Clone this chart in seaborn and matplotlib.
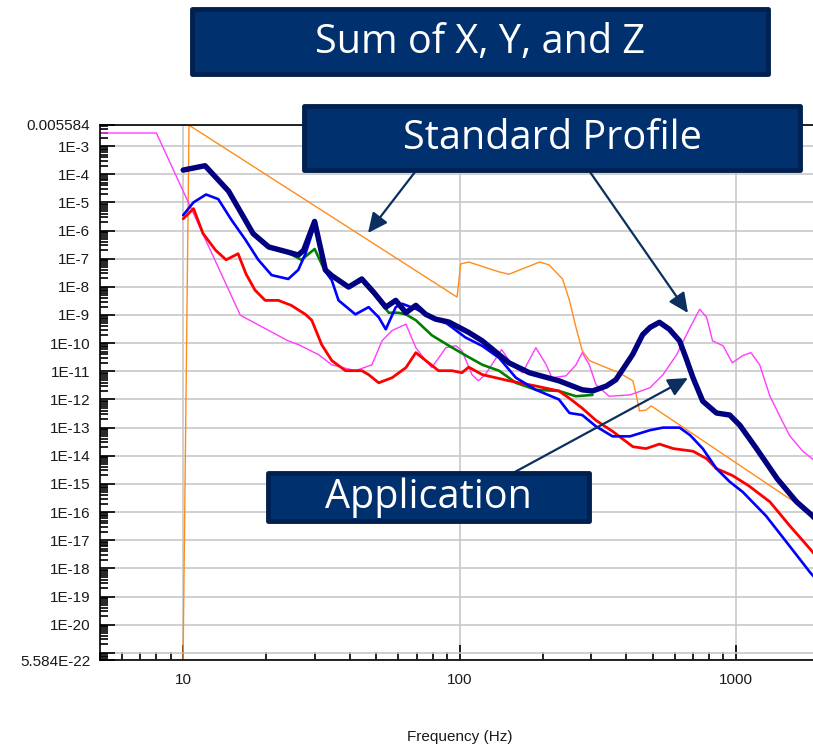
import numpy as np
import pandas as pd
import matplotlib
matplotlib.use('Agg')
import matplotlib.pyplot as plt
from matplotlib.patches import Rectangle, FancyArrowPatch
from matplotlib.ticker import NullFormatter, FixedLocator
import seaborn as sns

# ---- data (frequency in Hz, response values) ----
sum_freq = [10, 12, 14.6, 17.9, 20.4, 24, 26.1, 27.3, 29.9, 32.7, 34.5, 39.7, 44.3, 49, 54.1,
            58.8, 64, 69.5, 75.5, 82, 91.6, 108, 121, 151, 179, 229, 278, 303, 340, 368, 423,
            460, 489, 529, 575, 626, 660, 700, 759, 851, 950, 1035, 1188, 1414, 1660, 1893, 2000]
sum_val = [1.4e-4, 2.0e-4, 2.5e-5, 7.8e-7, 2.6e-7, 1.7e-7, 1.35e-7, 2.0e-7, 2.1e-6, 4.0e-8,
           2.5e-8, 9.8e-9, 1.9e-8, 6.3e-9, 1.9e-9, 3.3e-9, 1.2e-9, 2.2e-9, 1.05e-9, 7.1e-10,
           5.6e-10, 2.4e-10, 1.2e-10, 2.0e-11, 8.9e-12, 4.6e-12, 2.2e-12, 2.0e-12, 3.0e-12,
           5.0e-12, 3.9e-11, 2.0e-10, 3.6e-10, 5.5e-10, 3.1e-10, 1.2e-10, 3.0e-11, 5.9e-12,
           8.7e-13, 3.3e-13, 2.8e-13, 1.2e-13, 1.8e-14, 1.5e-15, 2.3e-16, 7.4e-17, 4.0e-17]

green_freq = [10, 12, 14.6, 17.9, 20.4, 24, 26.8, 29.9, 32.7, 35, 39.7, 44.3, 49, 55.5, 60, 64,
              69.5, 79.4, 91.6, 105.6, 121, 139, 160, 189, 229, 264, 303]
green_val = [1.3e-4, 1.9e-4, 2.3e-5, 7.0e-7, 2.4e-7, 1.6e-7, 9.1e-8, 2.2e-7, 3.4e-8, 2.2e-8,
             9.5e-9, 1.6e-8, 5.5e-9, 1.2e-9, 1.2e-9, 1.05e-9, 6.5e-10, 1.9e-10, 8.1e-11,
             3.6e-11, 1.7e-11, 1.05e-11, 3.9e-12, 2.2e-12, 2.0e-12, 1.3e-12, 1.45e-12]

blue_freq = [10, 10.9, 12.1, 13.4, 14.9, 16.8, 18.7, 20.9, 24, 26.1, 27.7, 29.9, 32.7, 34.5,
             36.5, 42, 46.9, 51, 54.1, 58.8, 62, 70, 80, 90, 105, 121, 139, 160, 189, 229, 250,
             278, 312, 358, 414, 489, 545, 626, 683, 759, 851, 950, 1059, 1285, 1527, 1857, 2000]
blue_val = [3.5e-6, 1.0e-5, 1.9e-5, 1.3e-5, 2.5e-6, 4.7e-7, 9.1e-8, 2.6e-8, 1.9e-8, 4.0e-8,
            1.5e-7, 1.5e-6, 3.5e-8, 1.7e-8, 3.3e-9, 1.05e-9, 1.9e-9, 8.3e-10, 3.1e-10, 1.9e-9,
            2.5e-9, 1.6e-9, 7.9e-10, 5.0e-10, 1.6e-10, 7.9e-11, 3.0e-11, 5.9e-12, 2.2e-12,
            1.0e-12, 3.3e-13, 2.8e-13, 1.1e-13, 4.9e-14, 4.9e-14, 8.1e-14, 1.0e-13, 1.0e-13,
            5.4e-14, 1.8e-14, 3.5e-15, 1.2e-15, 5.2e-16, 7.4e-17, 8.5e-18, 7.2e-19, 3.2e-19]

red_freq = [10, 10.9, 11.8, 13.1, 14.3, 15.8, 16.9, 18.2, 19.8, 22.1, 24.6, 27.7, 29.2, 31.7,
            34.5, 38.7, 44.3, 46.9, 51, 57, 64, 69.5, 75.5, 84, 94, 102, 108, 121, 151, 189,
            229, 250, 278, 312, 358, 424, 473, 529, 594, 700, 784, 851, 971, 1112, 1329, 1570,
            1857, 2000]
red_val = [2.6e-6, 6.0e-6, 7.8e-7, 2.0e-7, 9.1e-8, 1.5e-7, 2.8e-8, 7.6e-9, 3.3e-9, 3.3e-9,
           2.2e-9, 1.05e-9, 6.5e-10, 8.9e-11, 2.4e-11, 1.05e-11, 1.05e-11, 7.6e-12, 3.9e-12,
           5.9e-12, 1.35e-11, 4.6e-11, 2.4e-11, 1.05e-11, 1.05e-11, 8.9e-12, 1.4e-11, 7.6e-12,
           4.6e-12, 3.0e-12, 2.0e-12, 1.1e-12, 4.9e-13, 1.8e-13, 7.4e-14, 2.1e-14, 1.8e-14,
           2.6e-14, 1.8e-14, 1.45e-14, 7.9e-15, 3.5e-15, 2.0e-15, 8.7e-16, 2.3e-16, 3.2e-17,
           4.9e-18, 2.0e-18]

mag_freq = [5, 8.0, 16.1, 24, 26.1, 30.9, 34.5, 42, 48.2, 52.4, 57, 64, 69.5, 75.5, 79.4, 89.3,
            97, 102, 111, 117, 124, 142, 155, 169, 189, 206, 216, 243, 264, 278, 295, 312, 348,
            414, 489, 545, 611, 683, 740, 784, 824, 899, 971, 1059, 1134, 1220, 1329, 1477,
            1570, 1747, 2000]
mag_val = [2.9e-3, 2.9e-3, 9.8e-10, 1.2e-10, 8.9e-11, 3.9e-11, 1.7e-11, 1.05e-11, 1.7e-11,
           1.2e-10, 2.8e-10, 4.7e-10, 6.9e-11, 2.4e-11, 1.35e-11, 6.9e-11, 8.1e-11, 5.4e-11,
           7.6e-12, 4.6e-12, 7.6e-12, 5.9e-11, 1.7e-11, 8.9e-12, 6.9e-11, 1.7e-11, 5.9e-12,
           6.9e-12, 1.7e-11, 4.6e-11, 1.7e-11, 3.3e-12, 1.3e-12, 1.45e-12, 2.6e-12, 7.6e-12,
           3.9e-11, 3.6e-10, 1.6e-9, 8.3e-10, 1.2e-10, 8.1e-11, 2.0e-11, 3.6e-11, 4.6e-11,
           1.7e-11, 1.3e-12, 1.6e-13, 5.0e-14, 1.45e-14, 5.0e-15]

std_freq = [9.98, 10.5, 98, 101, 108, 139, 151, 195, 211, 236, 250, 264, 278, 295, 340, 378,
            424, 436, 448, 473, 494, 2000]
std_val = [2e-22, 5.5e-3, 4.3e-9, 6.5e-8, 7.6e-8, 3.4e-8, 2.8e-8, 7.6e-8, 6.0e-8, 1.9e-8,
           3.3e-9, 3.6e-10, 5.4e-11, 2.4e-11, 1.35e-11, 8.9e-12, 4.6e-12, 1.45e-12, 3.9e-13,
           4.2e-13, 5.9e-13, 5.9e-17]

ytick_vals = [5.584e-22, 1e-21, 1e-20, 1e-19, 1e-18, 1e-17, 1e-16, 1e-15, 1e-14, 1e-13, 1e-12,
              1e-11, 1e-10, 1e-9, 1e-8, 1e-7, 1e-6, 1e-5, 1e-4, 1e-3, 5.584e-3]
ytick_labels = ['5.584E-22', '', '1E-20', '1E-19', '1E-18', '1E-17', '1E-16', '1E-15', '1E-14',
                '1E-13', '1E-12', '1E-11', '1E-10', '1E-9', '1E-8', '1E-7', '1E-6', '1E-5',
                '1E-4', '1E-3', '0.005584']
xtick_vals = [10, 100, 1000]
xtick_labels = ['10', '100', '1000']

sns.set_theme(style='white')
plt.rcParams['font.family'] = ['Liberation Sans', 'DejaVu Sans']
plt.rcParams['ytick.left'] = True
plt.rcParams['xtick.bottom'] = True
plt.rcParams['ytick.minor.visible'] = True
plt.rcParams['xtick.minor.visible'] = True

W, H = 813, 750
fig = plt.figure(figsize=(W / 100, H / 100), dpi=100)
ax = fig.add_axes([100 / W, 90 / H, 719 / W, 535 / H])
ax.set_xscale('log')
ax.set_yscale('log')

series = [
    (std_freq, std_val, '#ff8c1a', 1.0),
    (mag_freq, mag_val, '#ff3cff', 1.0),
    (green_freq, green_val, '#008000', 1.9),
    (red_freq, red_val, '#ff0000', 2.0),
    (blue_freq, blue_val, '#0000ff', 1.9),
    (sum_freq, sum_val, '#000080', 3.9),
]
for fx, vy, col, lw in series:
    df = pd.DataFrame({'freq': fx, 'val': vy})
    sns.lineplot(data=df, x='freq', y='val', ax=ax, color=col, lw=lw,
                 errorbar=None, sort=False)

ax.set_xlim(5, 2000)
ax.set_ylim(5.584e-22, 5.584e-3)

# log minor ticks (2..9 within each decade)
y_minor = [k * 10.0 ** e for e in range(-22, -2) for k in range(2, 10)]
x_minor = [k * 10.0 ** e for e in range(0, 4) for k in range(2, 10)]

ax.yaxis.set_major_locator(FixedLocator(ytick_vals))
ax.set_yticklabels(ytick_labels)
ax.xaxis.set_major_locator(FixedLocator(xtick_vals))
ax.set_xticklabels(xtick_labels)
ax.yaxis.set_minor_locator(FixedLocator(y_minor))
ax.xaxis.set_minor_locator(FixedLocator(x_minor))
ax.yaxis.set_minor_formatter(NullFormatter())
ax.xaxis.set_minor_formatter(NullFormatter())

ax.tick_params(axis='both', which='major', direction='in', length=10.5, width=1.2,
               color='black', labelsize=11, labelcolor='#1a1a1a')
ax.tick_params(axis='both', which='minor', direction='in', length=6, width=1.2,
               color='black')
ax.tick_params(axis='y', which='both', left=True, right=False)
ax.tick_params(axis='x', which='both', bottom=True, top=False)
ax.tick_params(axis='y', which='major', pad=7)
ax.tick_params(axis='x', which='major', pad=9)

ax.grid(True, which='major', color='#c8c8c8', lw=1.2)
ax.grid(False, which='minor')
ax.set_axisbelow(True)
for side in ['left', 'bottom', 'top']:
    ax.spines[side].set_color('black')
    ax.spines[side].set_linewidth(1.2)
ax.spines['right'].set_visible(False)

ax.set_xlabel('Frequency (Hz)', fontsize=11, color='#1a1a1a', labelpad=31)
ax.set_ylabel('')


def fpos(x, y):
    return (x / W, 1 - y / H)


box_fill = '#00306e'
box_edge = '#00204f'
arrow_col = '#0d2f5f'

# callout boxes (left, top, right, bottom in pixels)
boxes = [
    ((192, 9, 768, 74), 'Sum of X, Y, and Z'),
    ((304, 106, 800, 170), 'Standard Profile'),
    ((268, 473, 589, 521), 'Application'),
]
for (x0, y0, x1, y1), label in boxes:
    fx0, fy1 = fpos(x0, y1)
    rect = Rectangle((fx0, fy1), (x1 - x0) / W, (y1 - y0) / H, transform=fig.transFigure,
                     facecolor=box_fill, edgecolor=box_edge, lw=3.5, joinstyle='round',
                     zorder=5)
    fig.add_artist(rect)
    cx, cy = fpos((x0 + x1) / 2, (y0 + y1) / 2 + 1)
    fig.text(cx, cy, label, ha='center', va='center', color='white', fontsize=28.5,
             family=['Open Sans', 'DejaVu Sans'], zorder=6)

arrows = [
    ((415, 172), (368, 233)),
    ((590, 172), (688, 313)),
    ((513, 473), (688, 378)),
]
for start, end in arrows:
    arr = FancyArrowPatch(fpos(*start), fpos(*end), transform=fig.transFigure,
                          arrowstyle='-|>,head_length=0.6,head_width=0.28',
                          mutation_scale=20, color=arrow_col, lw=1.6, zorder=4,
                          shrinkA=0, shrinkB=0)
    fig.add_artist(arr)

fig.savefig('out.png', dpi=100)
